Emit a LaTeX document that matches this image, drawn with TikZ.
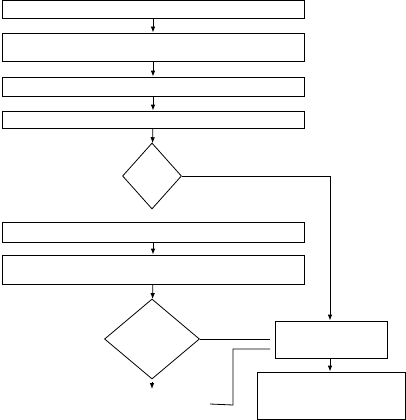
\documentclass[tikz,border=0pt]{standalone}
\usepackage{tikz}
\usetikzlibrary{arrows.meta,positioning,shapes.geometric}
\definecolor{ink}{HTML}{000000}
\tikzset{
  box/.style={draw=ink, line width=0.8pt, inner sep=0pt, minimum width=302pt},
  wbox/.style={box, fill=white},
  dec/.style={draw=ink, line width=0.8pt, diamond, inner sep=0pt, fill=white},
  flow/.style={-{Latex[length=6pt,width=4.5pt]}, draw=ink, line width=0.8pt},
  wire/.style={draw=ink, line width=0.8pt},
}
\begin{document}
\begin{tikzpicture}[x=1pt, y=-1pt]
\useasboundingbox (0,0) rectangle (406,420);
% main column
\node[wbox, minimum height=17.5pt] (read) at (153,9.25) {};
\node[wbox, minimum height=28pt] (prep) at (153,47) {};
\node[wbox, minimum height=19pt] (scan) at (153,86.5) {};
\node[wbox, minimum height=17pt] (sort) at (153,119.5) {};
\node[dec, minimum width=59pt, minimum height=66pt] (check) at (152,176) {};
\node[wbox, minimum height=20pt] (merge) at (153,232) {};
\node[wbox, minimum height=29pt] (count) at (153,269.5) {};
\node[dec, minimum width=95pt, minimum height=80pt] (test) at (152,339) {};
% right branch
\node[wbox, minimum width=112pt, minimum height=37pt] (fix) at (331,339.5) {};
\node[wbox, minimum width=148pt, minimum height=47pt] (store) at (331.5,395.5) {};
\coordinate (out) at (152,389);
\coordinate (endA) at (270,339);
\coordinate (endB) at (270,349);
\coordinate (bend) at (233,405);
\coordinate (endC) at (210,404);

\draw[flow] (read) -- (prep);
\draw[flow] (prep) -- (scan);
\draw[flow] (scan) -- (sort);
\draw[flow] (sort) -- (check);
\draw[flow] (merge) -- (count);
\draw[flow] (count) -- (test);
\draw[flow, shorten <=3pt] (test) -- (out);
\draw[flow] (check.east) -| ([xshift=-1pt]fix.north);
\draw[flow] ([xshift=-1pt]fix.south) -- ([xshift=-1.5pt]store.north);
\draw[wire] (test.east) -- (endA);
\draw[wire] (endB) -| (bend) -- (endC);
\end{tikzpicture}
\end{document}
